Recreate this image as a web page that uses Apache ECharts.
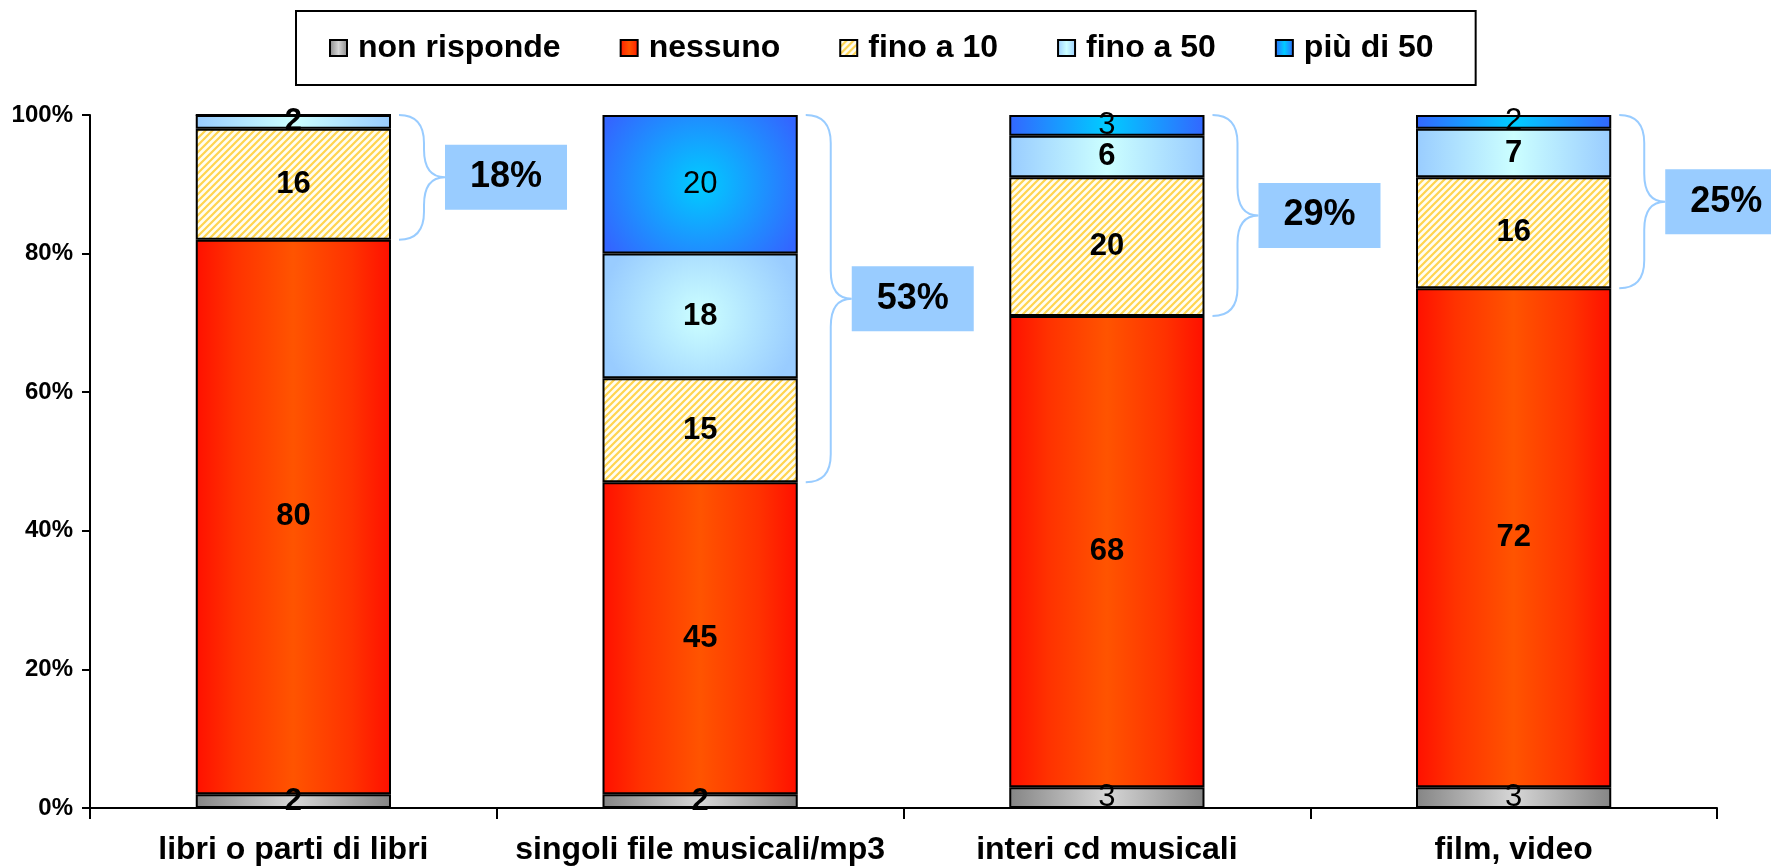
<!DOCTYPE html>
<html>
<head>
<meta charset="utf-8">
<script src="https://cdn.jsdelivr.net/npm/echarts@6/dist/echarts.min.js"></script>
<style>
html,body{margin:0;padding:0;background:#fff;}
#chart{width:1771px;height:866px;}
</style>
</head>
<body>
<div id="chart"></div>
<script>
// ---- data ----
const categories = ['libri o parti di libri', 'singoli file musicali/mp3', 'interi cd musicali', 'film, video'];
const seriesNames = ['non risponde', 'nessuno', 'fino a 10', 'fino a 50', 'più di 50'];
const nonRisponde = [2, 2, 3, 3];
const nessuno = [80, 45, 68, 72];
const finoA10 = [16, 15, 20, 16];
const finoA50 = [2, 18, 6, 7];
const piuDi50 = [0, 20, 3, 2];
const bracketLabels = ['18%', '53%', '29%', '25%'];
const yMax = 100;
const yInterval = 20;

// ---- styles ----
const FONT = '"Liberation Sans", Arial, sans-serif';
function lin(edge, mid) {
  return new echarts.graphic.LinearGradient(0, 0, 1, 0, [
    { offset: 0, color: edge }, { offset: 0.5, color: mid }, { offset: 1, color: edge }
  ]);
}
function rad(edge, mid) {
  return new echarts.graphic.RadialGradient(0.5, 0.5, 0.8, [
    { offset: 0, color: mid }, { offset: 1, color: edge }
  ]);
}
function hatch() {
  const s = 7;
  const c = document.createElement('canvas');
  c.width = s; c.height = s;
  const g = c.getContext('2d');
  g.fillStyle = '#fffdf2';
  g.fillRect(0, 0, s, s);
  g.strokeStyle = '#ffd44f';
  g.lineWidth = 2.2;
  g.beginPath();
  g.moveTo(-2, s + 2); g.lineTo(s + 2, -2);
  g.moveTo(-2, 2); g.lineTo(2, -2);
  g.moveTo(s - 2, s + 2); g.lineTo(s + 2, s - 2);
  g.stroke();
  return c;
}
const hatchPattern = { image: hatch(), repeat: 'repeat' };

const seriesData = [nonRisponde, nessuno, finoA10, finoA50, piuDi50];
const seriesColors = [
  lin('#858585', '#d6d6d6'),
  new echarts.graphic.LinearGradient(0, 0, 1, 0, [
    { offset: 0, color: '#ff1000' }, { offset: 0.2, color: '#ff3200' },
    { offset: 0.5, color: '#ff5400' }, { offset: 0.8, color: '#ff3200' }, { offset: 1, color: '#ff1000' }
  ]),
  hatchPattern,
  lin('#99ccff', '#ccffff'),
  lin('#3366ff', '#00ccff')
];
const bigColors = [null, null, null, rad('#99ccff', '#ccffff'), rad('#3366ff', '#00ccff')];
const labelWeights = [
  ['bold', 'bold', 'normal', 'normal'],
  ['bold', 'bold', 'bold', 'bold'],
  ['bold', 'bold', 'bold', 'bold'],
  ['bold', 'bold', 'bold', 'bold'],
  ['normal', 'normal', 'normal', 'normal']
];

const barSeries = seriesNames.map((name, si) => ({
  name: name,
  type: 'bar',
  stack: 'total',
  barWidth: '48%',
  itemStyle: { color: seriesColors[si], borderColor: '#000', borderWidth: 2 },
  data: seriesData[si].map((v, ci) => {
    const item = {
      value: v,
      label: { fontWeight: labelWeights[si][ci] }
    };
    if (bigColors[si] && v >= 10) {
      item.itemStyle = { color: bigColors[si] };
    }
    return item;
  }),
  label: {
    show: true,
    position: 'inside',
    color: '#000',
    fontSize: 31,
    fontFamily: FONT,
    formatter: p => (p.value ? String(p.value) : '')
  }
}));

// bracket ranges: from top of "nessuno" to 100%
const bracketData = categories.map((c, i) => [i, nonRisponde[i] + nessuno[i], yMax]);

const bracketSeries = {
  type: 'custom',
  name: 'brackets',
  silent: true,
  z: 5,
  renderItem: function (params, api) {
    const ci = api.value(0);
    const low = api.value(1);
    const high = api.value(2);
    const label = bracketLabels[params.dataIndex];
    const top = api.coord([ci, high]);
    const bot = api.coord([ci, low]);
    const bw = api.size([1, 0])[0] * 0.48;
    const xr = top[0] + bw / 2;
    const x0 = xr + 8, xv = xr + 33, xt = xr + 54;
    const yt = top[1], yb = bot[1], ym = (yt + yb) / 2;
    const r = Math.min(28, (yb - yt) / 4);
    const path = 'M' + x0 + ' ' + yt +
      ' Q' + xv + ' ' + yt + ' ' + xv + ' ' + (yt + r) +
      ' L' + xv + ' ' + (ym - r) +
      ' Q' + xv + ' ' + ym + ' ' + xt + ' ' + ym +
      ' Q' + xv + ' ' + ym + ' ' + xv + ' ' + (ym + r) +
      ' L' + xv + ' ' + (yb - r) +
      ' Q' + xv + ' ' + yb + ' ' + x0 + ' ' + yb;
    const bh = 65, bwid = 122;
    return {
      type: 'group',
      children: [
        {
          type: 'path',
          shape: { pathData: path },
          style: { fill: 'none', stroke: '#99ccff', lineWidth: 2 }
        },
        {
          type: 'rect',
          shape: { x: xt, y: ym - bh / 2, width: bwid, height: bh },
          style: { fill: '#99ccff' }
        },
        {
          type: 'text',
          style: {
            x: xt + bwid / 2, y: ym,
            text: label,
            fill: '#000',
            font: 'bold 36px ' + FONT,
            align: 'center', verticalAlign: 'middle',
            textAlign: 'center', textVerticalAlign: 'middle'
          }
        }
      ]
    };
  },
  data: bracketData
};

const chart = echarts.init(document.getElementById('chart'));
chart.setOption({
  animation: false,
  backgroundColor: '#fff',
  textStyle: { fontFamily: FONT },
  legend: {
    data: seriesNames,
    left: 296,
    top: 11,
    icon: 'rect',
    itemWidth: 17,
    itemHeight: 16,
    itemGap: 59,
    borderColor: '#000',
    borderWidth: 2,
    padding: [21, 42, 21, 33],
    textStyle: { fontSize: 32, fontWeight: 'bold', color: '#000', fontFamily: FONT, padding: [0, 0, 0, 6] }
  },
  grid: { left: 90, right: 54, top: 115, bottom: 58, containLabel: false },
  xAxis: {
    type: 'category',
    data: categories,
    axisLine: { lineStyle: { color: '#000', width: 2 } },
    axisTick: { show: true, length: 11, interval: 0, lineStyle: { color: '#000', width: 2 } },
    axisLabel: { fontSize: 32, fontWeight: 'bold', color: '#000', margin: 26, interval: 0, fontFamily: FONT }
  },
  yAxis: {
    type: 'value',
    min: 0,
    max: yMax,
    interval: yInterval,
    axisLine: { show: true, lineStyle: { color: '#000', width: 2 } },
    axisTick: { show: true, length: 8, lineStyle: { color: '#000', width: 2 } },
    splitLine: { show: false },
    axisLabel: { formatter: '{value}%', fontSize: 24, fontWeight: 'bold', color: '#000', margin: 17, fontFamily: FONT }
  },
  series: barSeries.concat([bracketSeries])
});
</script>
</body>
</html>
